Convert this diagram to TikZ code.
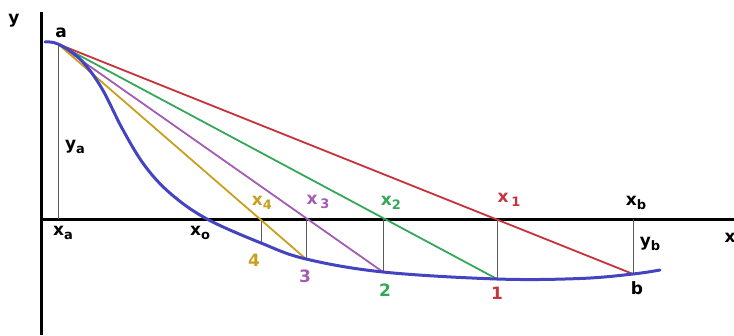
\documentclass[tikz,border=0pt]{standalone}
\usepackage{fontspec}
\setmainfont{DejaVu Sans}
\definecolor{cred}{RGB}{198,52,62}
\definecolor{cgreen}{RGB}{52,168,88}
\definecolor{cpurple}{RGB}{162,92,178}
\definecolor{cgold}{RGB}{200,160,32}
\definecolor{cblue}{RGB}{68,68,192}
\definecolor{cguide}{RGB}{90,90,90}
\newcommand\lsub[1]{\raisebox{-0.45ex}{\fontsize{13}{13}\selectfont #1}}
\begin{document}
\begin{tikzpicture}[x=1pt,y=-1pt,
  lbl/.style={font=\fontsize{17}{19}\selectfont\bfseries, inner sep=0pt},
  axisline/.style={line width=3pt, black},
  guide/.style={line width=0.8pt, cguide},
  chord/.style={line width=1.8pt},
  curveline/.style={line width=3pt, cblue, line cap=round}]
\useasboundingbox (0,0) rectangle (734,335);
% axes
\coordinate (ytop) at (41.5,12);
\coordinate (ybot) at (41.5,335);
\coordinate (xl) at (41.5,219);
\coordinate (xr) at (734,219);
\draw[axisline] (ybot) -- (ytop);
\draw[axisline] (xl) -- (xr);
% points on the curve
\coordinate (s) at (45,42);
\coordinate (a) at (58,44);
\coordinate (p4) at (261,243);
\coordinate (p3) at (306,259);
\coordinate (p2) at (383,272);
\coordinate (p1) at (497,279);
\coordinate (b) at (633,274);
\coordinate (e) at (660,270);
% points on the axis
\coordinate (xa) at (58,219);
\coordinate (x4) at (261,219);
\coordinate (x3) at (306,219);
\coordinate (x2) at (383,219);
\coordinate (x1) at (497,219);
\coordinate (xb) at (633,219);
% guides
\draw[guide] (a) -- (xa);
\draw[guide] (x4) -- (p4);
\draw[guide] (x3) -- (p3);
\draw[guide] (x2) -- (p2);
\draw[guide] (x1) -- (p1);
\draw[guide] (xb) -- (b);
% chords
\draw[chord, cred] (a) -- (b);
\draw[chord, cgreen] (a) -- (p1);
\draw[chord, cpurple] (a) -- (p2);
\draw[chord, cgold] (a) -- (p3);
% curve
\draw[curveline] plot[smooth, tension=0.6] coordinates {(s) (a) (80,59) (101,87) (123,130) (145,166) (171,194) (207,219) (p4) (p3) (p2) (p1) (580,278.5) (b) (e)};
% labels
\node[lbl] (ly) at (14,21) {y};
\node[lbl] (la) at (61,33) {a};
\node[lbl] (lya) at (75,147) {y\lsub{a}};
\node[lbl] (lxa) at (63,233) {x\lsub{a}};
\node[lbl] (lxo) at (200,233) {x\lsub{o}};
\node[lbl, cgold] (lx4) at (262,203) {x\lsub{4}};
\node[lbl, cpurple] (lx3) at (318,202) {x\,\lsub{3}};
\node[lbl, cgreen] (lx2) at (391,203) {x\lsub{2}};
\node[lbl, cred] (lx1) at (509,200) {x\,\lsub{1}};
\node[lbl] (lxb) at (636,203) {x\lsub{b}};
\node[lbl] (lyb) at (650,244) {y\lsub{b}};
\node[lbl] (lx) at (730,238) {x};
\node[lbl, cgold] (l4) at (254,260) {4};
\node[lbl, cpurple] (l3) at (305,276) {3};
\node[lbl, cgreen] (l2) at (385,290) {2};
\node[lbl, cred] (l1) at (497,293) {1};
\node[lbl] (lb) at (637,288) {b};
\end{tikzpicture}
\end{document}
